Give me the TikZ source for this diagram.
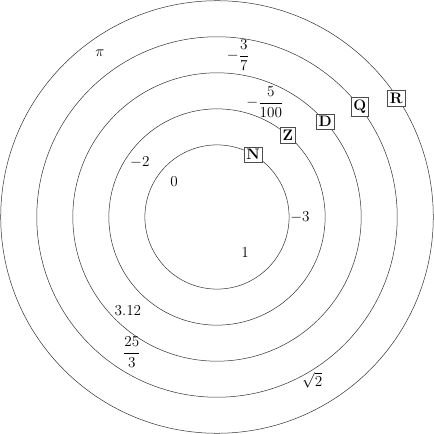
\documentclass[12pt,tikz,border=0pt]{standalone}
\usepackage{amsmath}
\usetikzlibrary{positioning}

\tikzset{setbox/.style={draw=black!70,fill=white,inner sep=2pt,font=\bfseries}}

\begin{document}
\begin{tikzpicture}
%\draw[thin,gray] (-6,-6) grid (6,6);
\useasboundingbox (-6.02,-6.02) rectangle (6.02,6.02);

\foreach \r in {2,3,4,5,6}
  \draw[black!80] (0,0) circle (\r);

% set names
\node[setbox] (N) at (60:2) {N};
\node[setbox] (Z) at (49:3) {Z};
\node[setbox] (D) at (41.4:4) {D};
\node[setbox] (Q) at (37.6:5) {Q};
\node[setbox] (R) at (33.6:5.97) {R};

% numbers
\node (n0) at (-1.19,0.97) {$0$};
\node (n1) at (0.78,-1.0) {$1$};
\node (m3) at (2.3,0) {$-3$};
\node (m2) at (-2.14,1.53) {$-2$};
\node (f100) at (1.33,3.19) {$\displaystyle -\frac{5}{100}$};
\node (f7) at (0.58,4.5) {$\displaystyle -\frac{3}{7}$};
\node (pi) at (-3.25,4.53) {$\pi$};
\node (d312) at (-2.47,-2.61) {$3.12$};
\node (f3) at (-2.36,-3.75) {$\displaystyle \frac{25}{3}$};
\node (sq2) at (2.64,-4.53) {$\sqrt{2}$};

\end{tikzpicture}
\end{document}
